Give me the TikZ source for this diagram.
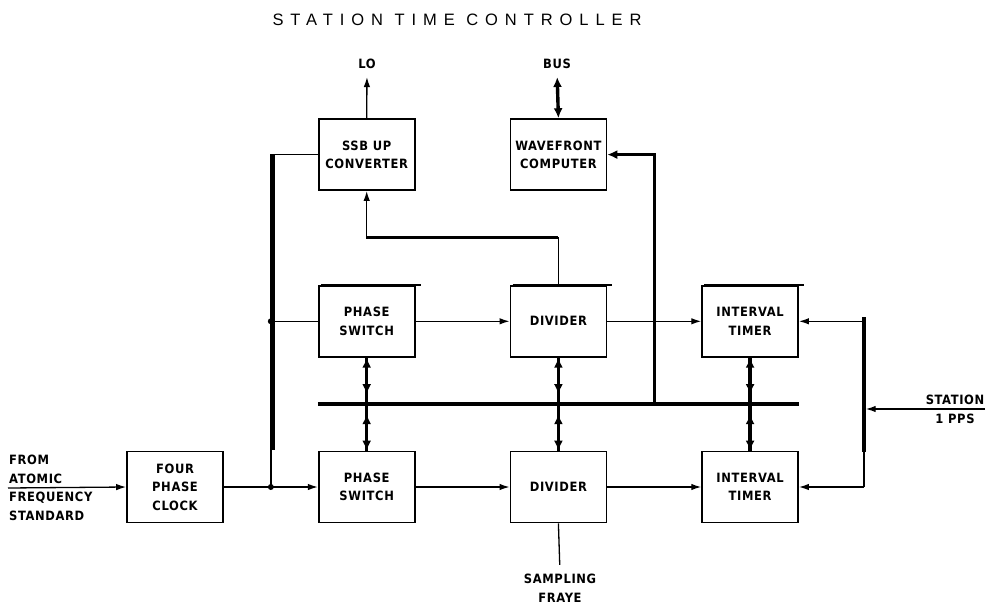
\documentclass[tikz,border=0pt]{standalone}
\usepackage{fontspec}
\setmainfont{Liberation Sans}
\newfontfamily\lblfont[LetterSpace=5.0]{DejaVu Sans Condensed}
\newfontfamily\ttlfont[LetterSpace=42.0]{Liberation Sans}
\usetikzlibrary{arrows.meta,positioning,calc}

\begin{document}
\begin{tikzpicture}[x=1pt,y=-1pt,font=\lblfont\bfseries\fontsize{12.8}{18.5}\selectfont,>={Latex[length=10pt,width=6.5pt]},blk/.style={draw,line width=1.7pt,minimum width=96pt,minimum height=71pt,align=center,inner sep=2pt},wire/.style={line width=1.3pt},bus/.style={line width=3.4pt,>={Latex[length=10pt,width=9pt]}},lbl/.style={align=center,inner sep=1pt}]
\useasboundingbox (0,0) rectangle (992,604);
\node[font=\ttlfont\fontsize{16.5}{18}\selectfont] (title) at (457,20) {STATION TIME CONTROLLER};
\node[blk] (clk) at (175,487) {FOUR\\PHASE\\CLOCK};
\node[blk,right=94pt of clk] (ps2) {PHASE\\SWITCH};
\node[blk,right=94pt of ps2] (div2) {DIVIDER};
\node[blk,right=94pt of div2] (it2) {INTERVAL\\TIMER};
\node[blk,above=93pt of ps2] (ps1) {PHASE\\SWITCH};
\node[blk,above=93pt of div2] (div1) {DIVIDER};
\node[blk,above=93pt of it2] (it1) {INTERVAL\\TIMER};
\node[blk,above=94pt of ps1] (ssb) {SSB UP\\CONVERTER};
\node[blk,above=94pt of div1] (wave) {WAVEFRONT\\COMPUTER};
\node[lbl,align=left,anchor=west] (src) at (8,488) {FROM\\ATOMIC\\FREQUENCY\\STANDARD};
\node[lbl] (lo) at (367,64) {LO};
\node[lbl] (busl) at (557,64) {BUS};
\node[lbl] (stn) at (955,400) {STATION};
\node[lbl] (pps) at (955,419) {1 PPS};
\node[lbl] (smp) at (560,588) {SAMPLING\\FRAYE};
\coordinate (j2) at ($(clk.east)!0.5!(ps2.west)$);
\coordinate (j1) at (j2 |- ps1.west);
\coordinate (busL) at ($(ps1.south west)!0.5!(ps2.north west)$);
\coordinate (busR) at ($(it1.south east)!0.5!(it2.north east)$);
\coordinate (mid) at ($(div1.east)!0.5!(it1.west)$);
\coordinate (tap) at (mid |- busL);
\coordinate (turn) at ($(ssb.south)!0.5!(ps1.north)$);
\coordinate (bar) at (864,409);
\coordinate (stnin) at (985,409);
\foreach \n in {ps1,div1,it1} \draw[line width=2.8pt] ([xshift=3pt]\n.north west) -- ([xshift=5pt]\n.north east);
\draw[wire,->] (src.west) -- (clk.west);
\draw[wire,->] (clk.east) -- (ps2.west);
\draw[wire] (j2) |- (ssb.west);
\draw[bus] ($(j2 |- ssb.west)+(2,0)$) -- ($(j2)+(2,-37)$);
\draw[wire] (j1) -- (ps1.west);
\fill (j1) circle (3pt);
\fill (j2) circle (3pt);
\draw[wire,->] (ps1.east) -- (div1.west);
\draw[wire,->] (div1.east) -- (it1.west);
\draw[wire,->] (ps2.east) -- (div2.west);
\draw[wire,->] (div2.east) -- (it2.west);
\draw[bus] (busL) -- (busR);
\foreach \a/\b in {ps1/ps2,div1/div2,it1/it2} {
  \draw[bus] (\a.south) -- (\b.north);
  \draw[bus,<->,shorten >=10pt] (\a.south) -- (\a.south |- busL);
  \draw[bus,<->,shorten <=10pt] (\b.north |- busL) -- (\b.north);
}
\draw[wire,->] (div1.north) -- (div1.north |- turn) -- (ssb.south |- turn) -- (ssb.south);
\draw[line width=3pt] (ssb.south |- turn) -- (div1.north |- turn);
\draw[wire,->,shorten >=7pt] (ssb.north) -- (lo.south);
\draw[bus,<->,shorten >=7pt] (wave.north) -- (busl.south);
\draw[bus,<-] (wave.east) -- (wave.east -| tap) -- (tap);
\draw[bus] ($(bar |- it1.east)+(0,-4)$) -- ($(bar)+(0,43)$);
\draw[wire] ($(bar)+(0,43)$) -- (bar |- it2.east);
\draw[wire,->] (bar |- it1.east) -- (it1.east);
\draw[wire,->] (bar |- it2.east) -- (it2.east);
\draw[wire,->,shorten >=1.7pt] (stnin) -- (bar);
\draw[wire,shorten >=8pt] (div2.south) -- (smp.north);
\end{tikzpicture}
\end{document}
